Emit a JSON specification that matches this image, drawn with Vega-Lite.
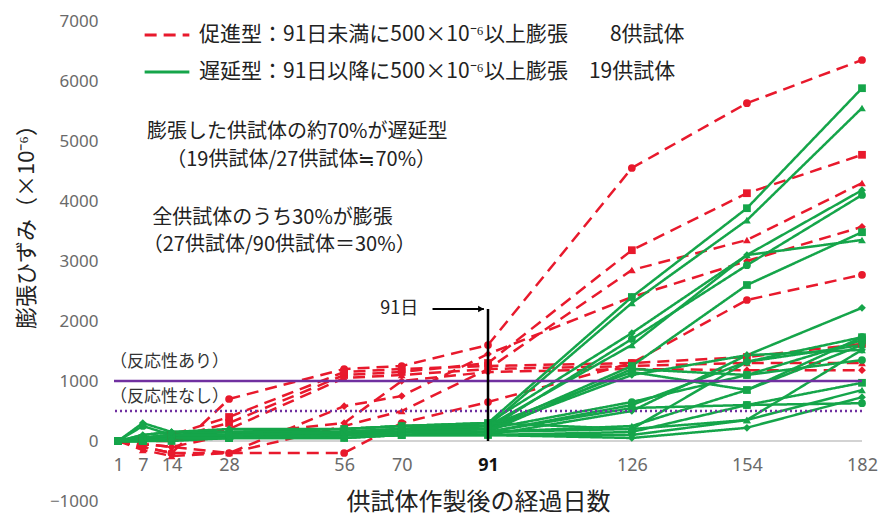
{
  "$schema": "https://vega.github.io/schema/vega-lite/v6.json",
  "width": 748,
  "height": 480,
  "autosize": {"type": "none"},
  "padding": {"left": 114, "top": 21, "right": 22, "bottom": 18},
  "background": "white",
  "config": {"view": {"stroke": null}, "font": "Noto Sans CJK JP"},
  "datasets": {
    "series": [
      {"s":"R1","t":"A","d":1,"v":0},{"s":"R1","t":"A","d":7,"v":-100},{"s":"R1","t":"A","d":14,"v":-200},{"s":"R1","t":"A","d":28,"v":700},{"s":"R1","t":"A","d":56,"v":1200},{"s":"R1","t":"A","d":70,"v":1250},{"s":"R1","t":"A","d":91,"v":1600},{"s":"R1","t":"A","d":126,"v":4550},{"s":"R1","t":"A","d":154,"v":5630},{"s":"R1","t":"A","d":182,"v":6350},
      {"s":"R2","t":"A","d":1,"v":0},{"s":"R2","t":"A","d":7,"v":0},{"s":"R2","t":"A","d":14,"v":50},{"s":"R2","t":"A","d":28,"v":300},{"s":"R2","t":"A","d":56,"v":1100},{"s":"R2","t":"A","d":70,"v":1150},{"s":"R2","t":"A","d":91,"v":1300},{"s":"R2","t":"A","d":126,"v":3180},{"s":"R2","t":"A","d":154,"v":4130},{"s":"R2","t":"A","d":182,"v":4770},
      {"s":"R3","t":"A","d":1,"v":0},{"s":"R3","t":"A","d":7,"v":-150},{"s":"R3","t":"A","d":14,"v":-250},{"s":"R3","t":"A","d":28,"v":-200},{"s":"R3","t":"A","d":56,"v":250},{"s":"R3","t":"A","d":70,"v":500},{"s":"R3","t":"A","d":91,"v":1200},{"s":"R3","t":"A","d":126,"v":2850},{"s":"R3","t":"A","d":154,"v":3350},{"s":"R3","t":"A","d":182,"v":4300},
      {"s":"R4","t":"A","d":1,"v":0},{"s":"R4","t":"A","d":7,"v":-50},{"s":"R4","t":"A","d":14,"v":-100},{"s":"R4","t":"A","d":28,"v":-200},{"s":"R4","t":"A","d":56,"v":580},{"s":"R4","t":"A","d":70,"v":750},{"s":"R4","t":"A","d":91,"v":1450},{"s":"R4","t":"A","d":126,"v":2400},{"s":"R4","t":"A","d":154,"v":3000},{"s":"R4","t":"A","d":182,"v":3570},
      {"s":"R5","t":"A","d":1,"v":0},{"s":"R5","t":"A","d":7,"v":-100},{"s":"R5","t":"A","d":14,"v":-200},{"s":"R5","t":"A","d":28,"v":-200},{"s":"R5","t":"A","d":56,"v":-200},{"s":"R5","t":"A","d":70,"v":300},{"s":"R5","t":"A","d":91,"v":650},{"s":"R5","t":"A","d":126,"v":1300},{"s":"R5","t":"A","d":154,"v":2350},{"s":"R5","t":"A","d":182,"v":2770},
      {"s":"R6","t":"A","d":1,"v":0},{"s":"R6","t":"A","d":7,"v":50},{"s":"R6","t":"A","d":14,"v":100},{"s":"R6","t":"A","d":28,"v":400},{"s":"R6","t":"A","d":56,"v":1150},{"s":"R6","t":"A","d":70,"v":1200},{"s":"R6","t":"A","d":91,"v":1250},{"s":"R6","t":"A","d":126,"v":1300},{"s":"R6","t":"A","d":154,"v":1400},{"s":"R6","t":"A","d":182,"v":1620},
      {"s":"R7","t":"A","d":1,"v":0},{"s":"R7","t":"A","d":7,"v":0},{"s":"R7","t":"A","d":14,"v":0},{"s":"R7","t":"A","d":28,"v":200},{"s":"R7","t":"A","d":56,"v":1050},{"s":"R7","t":"A","d":70,"v":1100},{"s":"R7","t":"A","d":91,"v":1200},{"s":"R7","t":"A","d":126,"v":1250},{"s":"R7","t":"A","d":154,"v":1300},{"s":"R7","t":"A","d":182,"v":1300},
      {"s":"R8","t":"A","d":1,"v":0},{"s":"R8","t":"A","d":7,"v":-50},{"s":"R8","t":"A","d":14,"v":-100},{"s":"R8","t":"A","d":28,"v":100},{"s":"R8","t":"A","d":56,"v":300},{"s":"R8","t":"A","d":70,"v":1000},{"s":"R8","t":"A","d":91,"v":1150},{"s":"R8","t":"A","d":126,"v":1200},{"s":"R8","t":"A","d":154,"v":1180},{"s":"R8","t":"A","d":182,"v":1180},
      {"s":"G01","t":"B","d":1,"v":0},{"s":"G01","t":"B","d":7,"v":50},{"s":"G01","t":"B","d":14,"v":100},{"s":"G01","t":"B","d":28,"v":150},{"s":"G01","t":"B","d":56,"v":200},{"s":"G01","t":"B","d":70,"v":250},{"s":"G01","t":"B","d":91,"v":300},{"s":"G01","t":"B","d":126,"v":2400},{"s":"G01","t":"B","d":154,"v":3880},{"s":"G01","t":"B","d":182,"v":5880},
      {"s":"G02","t":"B","d":1,"v":0},{"s":"G02","t":"B","d":7,"v":100},{"s":"G02","t":"B","d":14,"v":150},{"s":"G02","t":"B","d":28,"v":150},{"s":"G02","t":"B","d":56,"v":200},{"s":"G02","t":"B","d":70,"v":250},{"s":"G02","t":"B","d":91,"v":250},{"s":"G02","t":"B","d":126,"v":2300},{"s":"G02","t":"B","d":154,"v":3680},{"s":"G02","t":"B","d":182,"v":5550},
      {"s":"G03","t":"B","d":1,"v":0},{"s":"G03","t":"B","d":7,"v":0},{"s":"G03","t":"B","d":14,"v":50},{"s":"G03","t":"B","d":28,"v":100},{"s":"G03","t":"B","d":56,"v":150},{"s":"G03","t":"B","d":70,"v":200},{"s":"G03","t":"B","d":91,"v":300},{"s":"G03","t":"B","d":126,"v":1800},{"s":"G03","t":"B","d":154,"v":3100},{"s":"G03","t":"B","d":182,"v":4180},
      {"s":"G04","t":"B","d":1,"v":0},{"s":"G04","t":"B","d":7,"v":50},{"s":"G04","t":"B","d":14,"v":100},{"s":"G04","t":"B","d":28,"v":100},{"s":"G04","t":"B","d":56,"v":150},{"s":"G04","t":"B","d":70,"v":200},{"s":"G04","t":"B","d":91,"v":200},{"s":"G04","t":"B","d":126,"v":1700},{"s":"G04","t":"B","d":154,"v":2930},{"s":"G04","t":"B","d":182,"v":4100},
      {"s":"G05","t":"B","d":1,"v":0},{"s":"G05","t":"B","d":7,"v":0},{"s":"G05","t":"B","d":14,"v":50},{"s":"G05","t":"B","d":28,"v":100},{"s":"G05","t":"B","d":56,"v":100},{"s":"G05","t":"B","d":70,"v":150},{"s":"G05","t":"B","d":91,"v":200},{"s":"G05","t":"B","d":126,"v":1250},{"s":"G05","t":"B","d":154,"v":2600},{"s":"G05","t":"B","d":182,"v":3480},
      {"s":"G06","t":"B","d":1,"v":0},{"s":"G06","t":"B","d":7,"v":50},{"s":"G06","t":"B","d":14,"v":50},{"s":"G06","t":"B","d":28,"v":100},{"s":"G06","t":"B","d":56,"v":150},{"s":"G06","t":"B","d":70,"v":150},{"s":"G06","t":"B","d":91,"v":250},{"s":"G06","t":"B","d":126,"v":1600},{"s":"G06","t":"B","d":154,"v":3100},{"s":"G06","t":"B","d":182,"v":3350},
      {"s":"G07","t":"B","d":1,"v":0},{"s":"G07","t":"B","d":7,"v":300},{"s":"G07","t":"B","d":14,"v":150},{"s":"G07","t":"B","d":28,"v":150},{"s":"G07","t":"B","d":56,"v":150},{"s":"G07","t":"B","d":70,"v":200},{"s":"G07","t":"B","d":91,"v":200},{"s":"G07","t":"B","d":126,"v":1100},{"s":"G07","t":"B","d":154,"v":1430},{"s":"G07","t":"B","d":182,"v":2220},
      {"s":"G08","t":"B","d":1,"v":0},{"s":"G08","t":"B","d":7,"v":50},{"s":"G08","t":"B","d":14,"v":100},{"s":"G08","t":"B","d":28,"v":100},{"s":"G08","t":"B","d":56,"v":100},{"s":"G08","t":"B","d":70,"v":150},{"s":"G08","t":"B","d":91,"v":150},{"s":"G08","t":"B","d":126,"v":600},{"s":"G08","t":"B","d":154,"v":1320},{"s":"G08","t":"B","d":182,"v":1730},
      {"s":"G09","t":"B","d":1,"v":0},{"s":"G09","t":"B","d":7,"v":0},{"s":"G09","t":"B","d":14,"v":50},{"s":"G09","t":"B","d":28,"v":50},{"s":"G09","t":"B","d":56,"v":100},{"s":"G09","t":"B","d":70,"v":100},{"s":"G09","t":"B","d":91,"v":150},{"s":"G09","t":"B","d":126,"v":1200},{"s":"G09","t":"B","d":154,"v":1100},{"s":"G09","t":"B","d":182,"v":1680},
      {"s":"G10","t":"B","d":1,"v":0},{"s":"G10","t":"B","d":7,"v":50},{"s":"G10","t":"B","d":14,"v":50},{"s":"G10","t":"B","d":28,"v":100},{"s":"G10","t":"B","d":56,"v":100},{"s":"G10","t":"B","d":70,"v":150},{"s":"G10","t":"B","d":91,"v":150},{"s":"G10","t":"B","d":126,"v":250},{"s":"G10","t":"B","d":154,"v":850},{"s":"G10","t":"B","d":182,"v":1600},
      {"s":"G11","t":"B","d":1,"v":0},{"s":"G11","t":"B","d":7,"v":0},{"s":"G11","t":"B","d":14,"v":50},{"s":"G11","t":"B","d":28,"v":50},{"s":"G11","t":"B","d":56,"v":100},{"s":"G11","t":"B","d":70,"v":100},{"s":"G11","t":"B","d":91,"v":100},{"s":"G11","t":"B","d":126,"v":500},{"s":"G11","t":"B","d":154,"v":1430},{"s":"G11","t":"B","d":182,"v":1520},
      {"s":"G12","t":"B","d":1,"v":0},{"s":"G12","t":"B","d":7,"v":50},{"s":"G12","t":"B","d":14,"v":100},{"s":"G12","t":"B","d":28,"v":100},{"s":"G12","t":"B","d":56,"v":150},{"s":"G12","t":"B","d":70,"v":150},{"s":"G12","t":"B","d":91,"v":200},{"s":"G12","t":"B","d":126,"v":650},{"s":"G12","t":"B","d":154,"v":1100},{"s":"G12","t":"B","d":182,"v":1350},
      {"s":"G13","t":"B","d":1,"v":0},{"s":"G13","t":"B","d":7,"v":0},{"s":"G13","t":"B","d":14,"v":0},{"s":"G13","t":"B","d":28,"v":50},{"s":"G13","t":"B","d":56,"v":50},{"s":"G13","t":"B","d":70,"v":100},{"s":"G13","t":"B","d":91,"v":100},{"s":"G13","t":"B","d":126,"v":150},{"s":"G13","t":"B","d":154,"v":600},{"s":"G13","t":"B","d":182,"v":970},
      {"s":"G14","t":"B","d":1,"v":0},{"s":"G14","t":"B","d":7,"v":50},{"s":"G14","t":"B","d":14,"v":50},{"s":"G14","t":"B","d":28,"v":50},{"s":"G14","t":"B","d":56,"v":100},{"s":"G14","t":"B","d":70,"v":100},{"s":"G14","t":"B","d":91,"v":150},{"s":"G14","t":"B","d":126,"v":200},{"s":"G14","t":"B","d":154,"v":350},{"s":"G14","t":"B","d":182,"v":850},
      {"s":"G15","t":"B","d":1,"v":0},{"s":"G15","t":"B","d":7,"v":0},{"s":"G15","t":"B","d":14,"v":50},{"s":"G15","t":"B","d":28,"v":50},{"s":"G15","t":"B","d":56,"v":50},{"s":"G15","t":"B","d":70,"v":100},{"s":"G15","t":"B","d":91,"v":100},{"s":"G15","t":"B","d":126,"v":50},{"s":"G15","t":"B","d":154,"v":220},{"s":"G15","t":"B","d":182,"v":730},
      {"s":"G16","t":"B","d":1,"v":0},{"s":"G16","t":"B","d":7,"v":250},{"s":"G16","t":"B","d":14,"v":100},{"s":"G16","t":"B","d":28,"v":100},{"s":"G16","t":"B","d":56,"v":100},{"s":"G16","t":"B","d":70,"v":150},{"s":"G16","t":"B","d":91,"v":150},{"s":"G16","t":"B","d":126,"v":550},{"s":"G16","t":"B","d":154,"v":600},{"s":"G16","t":"B","d":182,"v":630},
      {"s":"G17","t":"B","d":1,"v":0},{"s":"G17","t":"B","d":7,"v":50},{"s":"G17","t":"B","d":14,"v":100},{"s":"G17","t":"B","d":28,"v":100},{"s":"G17","t":"B","d":56,"v":150},{"s":"G17","t":"B","d":70,"v":200},{"s":"G17","t":"B","d":91,"v":250},{"s":"G17","t":"B","d":126,"v":1150},{"s":"G17","t":"B","d":154,"v":850},{"s":"G17","t":"B","d":182,"v":1730},
      {"s":"G18","t":"B","d":1,"v":0},{"s":"G18","t":"B","d":7,"v":0},{"s":"G18","t":"B","d":14,"v":50},{"s":"G18","t":"B","d":28,"v":50},{"s":"G18","t":"B","d":56,"v":100},{"s":"G18","t":"B","d":70,"v":100},{"s":"G18","t":"B","d":91,"v":100},{"s":"G18","t":"B","d":126,"v":100},{"s":"G18","t":"B","d":154,"v":350},{"s":"G18","t":"B","d":182,"v":1520},
      {"s":"G19","t":"B","d":1,"v":0},{"s":"G19","t":"B","d":7,"v":100},{"s":"G19","t":"B","d":14,"v":150},{"s":"G19","t":"B","d":28,"v":200},{"s":"G19","t":"B","d":56,"v":200},{"s":"G19","t":"B","d":70,"v":250},{"s":"G19","t":"B","d":91,"v":300},{"s":"G19","t":"B","d":126,"v":200},{"s":"G19","t":"B","d":154,"v":1320},{"s":"G19","t":"B","d":182,"v":1600}
    ],
    "notes": [
      {"d":8,"v":5150,"label":"膨張した供試体の約70%が遅延型"},
      {"d":12.7,"v":4680,"label":"（19供試体/27供試体≒70%）"},
      {"d":9.3,"v":3720,"label":"全供試体のうち30%が膨張"},
      {"d":7,"v":3270,"label":"（27供試体/90供試体＝30%）"}
    ],
    "zones": [
      {"d":-1,"v":1320,"label":"（反応性あり）"},
      {"d":-1,"v":730,"label":"（反応性なし）"}
    ]
  },
  "layer": [
    {
      "data": {"values": [{"v": 0}]},
      "mark": {"type": "rule", "color": "#c4c4c4", "strokeWidth": 1.5},
      "encoding": {"y": {"field": "v", "type": "quantitative"}}
    },
    {
      "data": {"name": "series"},
      "mark": {"type": "line", "strokeWidth": 2.5},
      "encoding": {
        "x": {"field": "d", "type": "quantitative",
          "scale": {"domain": [0, 182], "nice": false, "zero": false},
          "axis": {
            "values": [1, 7, 14, 28, 56, 70, 91, 126, 154, 182],
            "title": "供試体作製後の経過日数",
            "offset": -60, "domain": false, "ticks": false, "grid": false,
            "labelPadding": 15, "labelFontSize": 18, "labelFont": "Noto Sans",
            "labelColor": {"condition": {"test": "datum.value == 91", "value": "#111111"}, "value": "#6a6a6a"},
            "labelFontWeight": {"condition": {"test": "datum.value == 91", "value": "bold"}, "value": "normal"},
            "labelFlush": false, "labelOverlap": false,
            "titleFontSize": 24, "titleFontWeight": "normal", "titleColor": "#222222",
            "titleX": 364, "titleY": 61, "titleBaseline": "middle"
          }},
        "y": {"field": "v", "type": "quantitative",
          "scale": {"domain": [-1000, 7000], "nice": false, "zero": false},
          "axis": {
            "values": [-1000, 0, 1000, 2000, 3000, 4000, 5000, 6000, 7000],
            "format": "d",
            "title": "膨張ひずみ（×10⁻⁶）",
            "domain": false, "ticks": false, "grid": false,
            "labelPadding": 16, "labelFontSize": 17, "labelFont": "Noto Sans", "labelColor": "#6a6a6a",
            "titleFontSize": 22, "titleFontWeight": "normal", "titleColor": "#222222",
            "titleX": -88, "titleY": 200, "titleAngle": 270, "titleAlign": "center", "titleBaseline": "middle"
          }},
        "detail": {"field": "s"},
        "color": {"field": "t", "type": "nominal",
          "scale": {"domain": ["A", "B"], "range": ["#e8192c", "#15a54a"]},
          "legend": {"orient": "none", "legendX": 29, "legendY": -10, "title": null,
            "symbolType": "stroke", "symbolSize": 2000, "symbolStrokeWidth": 3,
            "labelFontSize": 21, "labelColor": "#222222", "labelLimit": 0, "labelOffset": 8, "rowPadding": 3,
            "labelExpr": "datum.value == 'A' ? '促進型：91日未満に500×10⁻⁶以上膨張\u3000\u30008供試体' : '遅延型：91日以降に500×10⁻⁶以上膨張\u300019供試体'"}},
        "strokeDash": {"field": "t", "type": "nominal",
          "scale": {"domain": ["A", "B"], "range": [[12, 7], [1, 0]]},
          "legend": {"orient": "none", "legendX": 29, "legendY": -10, "title": null,
            "symbolType": "stroke", "symbolSize": 2000, "symbolStrokeWidth": 3,
            "labelFontSize": 21, "labelColor": "#222222", "labelLimit": 0, "labelOffset": 8, "rowPadding": 3,
            "labelExpr": "datum.value == 'A' ? '促進型：91日未満に500×10⁻⁶以上膨張\u3000\u30008供試体' : '遅延型：91日以降に500×10⁻⁶以上膨張\u300019供試体'"}}
      }
    },
    {
      "data": {"name": "series"},
      "mark": {"type": "point", "filled": true, "size": 60, "opacity": 1},
      "encoding": {
        "x": {"field": "d", "type": "quantitative"},
        "y": {"field": "v", "type": "quantitative"},
        "color": {"field": "t", "type": "nominal", "legend": null},
        "shape": {"field": "s", "type": "nominal", "legend": null,
          "scale": {"range": ["square", "triangle-up", "diamond", "circle"]}}
      }
    },
    {
      "data": {"values": [{"v": 1000}]},
      "mark": {"type": "rule", "color": "#7030a0", "strokeWidth": 2.5},
      "encoding": {"y": {"field": "v", "type": "quantitative"}}
    },
    {
      "data": {"values": [{"v": 500}]},
      "mark": {"type": "rule", "color": "#7030a0", "strokeWidth": 2.5, "strokeDash": [2, 3]},
      "encoding": {"y": {"field": "v", "type": "quantitative"}}
    },
    {
      "data": {"values": [{"d": 91, "v": 0, "v2": 2200}]},
      "mark": {"type": "rule", "color": "#000000", "strokeWidth": 2.5},
      "encoding": {"x": {"field": "d", "type": "quantitative"}, "y": {"field": "v", "type": "quantitative"}, "y2": {"field": "v2"}}
    },
    {
      "data": {"values": [{"d": 77.5, "d2": 90, "v": 2200}]},
      "mark": {"type": "rule", "color": "#000000", "strokeWidth": 1.8},
      "encoding": {"x": {"field": "d", "type": "quantitative"}, "x2": {"field": "d2"}, "y": {"field": "v", "type": "quantitative"}}
    },
    {
      "data": {"values": [{"d": 89.3, "v": 2200}]},
      "mark": {"type": "point", "shape": "triangle-right", "filled": true, "color": "#000000", "size": 45, "opacity": 1},
      "encoding": {"x": {"field": "d", "type": "quantitative"}, "y": {"field": "v", "type": "quantitative"}}
    },
    {
      "data": {"values": [{"d": 74, "v": 2200, "label": "91日"}]},
      "mark": {"type": "text", "align": "right", "baseline": "middle", "fontSize": 18, "color": "#222222"},
      "encoding": {"x": {"field": "d", "type": "quantitative"}, "y": {"field": "v", "type": "quantitative"}, "text": {"field": "label"}}
    },
    {
      "data": {"name": "notes"},
      "mark": {"type": "text", "align": "left", "baseline": "middle", "fontSize": 20, "color": "#222222"},
      "encoding": {"x": {"field": "d", "type": "quantitative"}, "y": {"field": "v", "type": "quantitative"}, "text": {"field": "label"}}
    },
    {
      "data": {"name": "zones"},
      "mark": {"type": "text", "align": "left", "baseline": "middle", "fontSize": 17, "color": "#333333"},
      "encoding": {"x": {"field": "d", "type": "quantitative"}, "y": {"field": "v", "type": "quantitative"}, "text": {"field": "label"}}
    }
  ]
}
